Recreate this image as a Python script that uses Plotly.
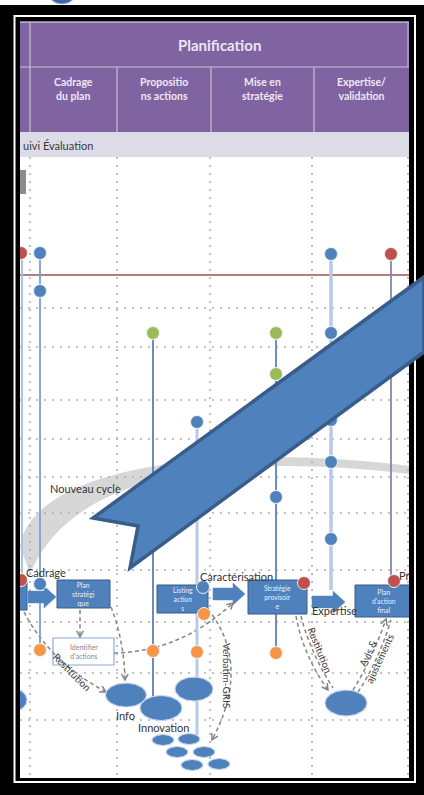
import numpy as np
import plotly.graph_objects as go

W, H = 424, 795

# ---------------- data ----------------
phase_title = "Planification"
column_labels = ["Cadrage<br>du plan", "Propositio<br>ns actions",
                 "Mise en<br>stratégie", "Expertise/<br>validation"]
column_edges = [30, 117, 211, 314, 409]
band_label = "uivi Évaluation"

grid_x = [30, 117, 210, 312, 408]
grid_y = [308, 347, 400, 439, 477, 513, 570, 622, 673, 720]
threshold_y = 275

stem_x = [22, 40, 153, 197, 276, 331, 391]
stem_top = [253, 253, 333, 422, 333, 254, 254]
stem_bottom = [600, 650, 698, 735, 653, 590, 580]

red_x = [21, 391, 21, 304, 394]
red_y = [253, 254, 580, 583, 581]
blue_x = [40, 40, 331, 331, 331, 331, 331, 197, 276, 40, 203]
blue_y = [253, 291, 254, 333, 420, 462, 539, 422, 497, 584, 587]
green_x = [153, 276, 276]
green_y = [333, 333, 374]
orange_x = [40, 153, 197, 276, 204]
orange_y = [650, 651, 652, 653, 614]

box_labels = ["", "Plan<br>stratégi<br>que", "Listing<br>action<br>s",
              "Stratégie<br>provisoir<br>e", "Plan<br>d'action<br>final"]
box_x0 = [10, 57, 157, 248, 355]
box_x1 = [27, 110, 208, 307, 412]
box_y0 = [582, 580, 585, 580, 585]
box_y1 = [610, 608, 613, 614, 617]

note_label = "Identifier<br>d'actions"
note_x = [53, 114]
note_y = [638, 665]

flow_x0 = [28, 213, 312]
flow_x1 = [56, 245, 345]
flow_y = [597, 594, 602]

ell_cx = [8, 126, 161, 194, 346, 163, 189, 177, 204, 192, 219]
ell_cy = [700, 695, 708, 689, 703, 740, 739, 752, 752, 765, 764]
ell_rx = [19, 20.5, 21, 19, 21, 11, 11, 11, 11, 11, 11]
ell_ry = [13, 12, 12.5, 12, 13, 5.5, 5.5, 5.5, 5.5, 5.5, 5.5]

ell_labels = ["Info", "Innovation", "Nouveau cycle"]
ell_label_x = [125, 163, 85]
ell_label_y = [715, 727, 488]

step_labels = ["Cadrage", "Caractérisation", "Expertise", "Pr"]
step_x = [24, 198, 310, 397]
step_y = [572, 576, 610, 575]

rot_labels = ["Restitution", "Verbatim-GRIS", "Restitution", "Avis &<br>ajustements"]
rot_x = [72, 227, 320, 373]
rot_y = [672, 675, 650, 656]
rot_angle = [45, 90, 68, -65]

conn_start = [(24, 612), (80, 610), (111, 607), (114, 653), (208, 609),
              (296, 616), (301, 616), (353, 690), (358, 692)]
conn_ctrl = [(50, 662), (80, 624), (124, 640), (180, 652), (252, 665),
             (303, 655), (310, 652), (372, 660), (378, 662)]
conn_end = [(106, 692), (80, 637), (125, 680), (233, 603), (212, 740),
            (328, 690), (333, 688), (386, 619), (391, 620)]
conn_head = [True, True, True, True, True, True, False, True, False]

arc_upper = [(20, 546), (32, 472), (200, 440), (410, 466)]
arc_lower = [(410, 474), (225, 452), (72, 472), (30, 574)]

callout_x = [93, 138, 130, 424, 424]
callout_y = [518, 526, 568, 352, 277]

# ---------------- styles ----------------
PURPLE = "#8064a2"
BLUE = "#4f81bd"
BLUE_DARK = "#385d8a"
FONT = "Lato"
stem_colors = ["#a9c1e3", "#7a9fd4", "#4a6fa5", "#b8cae6", "#6d8fc8", "#b9c9e3", "#7f8aa3"]
stem_widths = [2, 1.8, 1.6, 3, 2, 3.5, 1.8]

shapes = []
annotations = []


def rect(x0, y0, x1, y1, fill, line_color=None, lw=0, layer="below"):
    shapes.append(dict(type="rect", xref="x", yref="y", x0=x0, y0=y0, x1=x1, y1=y1,
                       fillcolor=fill, line=dict(color=line_color or fill, width=lw),
                       layer=layer))


def seg(x0, y0, x1, y1, color, width=1, dash=None, layer="below"):
    ln = dict(color=color, width=width)
    if dash:
        ln["dash"] = dash
    shapes.append(dict(type="line", xref="x", yref="y", x0=x0, y0=y0, x1=x1, y1=y1,
                       line=ln, layer=layer))


def txt(x, y, text, size, color="#333333", angle=0, xanchor="center", bold=False):
    if bold:
        text = "<b>" + text + "</b>"
    annotations.append(dict(x=x, y=y, xref="x", yref="y", text=text, showarrow=False,
                            xanchor=xanchor, yanchor="middle", textangle=angle,
                            font=dict(family=FONT, size=size, color=color)))


# content background
rect(20, 21, 409, 778, "white")
# header
rect(20, 22, 409, 132, PURPLE)
seg(20, 22.5, 409, 22.5, "#b7a6cc", 1)
seg(20, 67, 409, 67, "#c9bcd9", 1.2)
seg(30, 22, 30, 132, "#c9bcd9", 1.2)
seg(408, 22, 408, 67, "#c9bcd9", 1)
for e in column_edges[1:-1]:
    seg(e, 67, e, 132, "#c9bcd9", 1.2)
txt((30 + 409) / 2, 45, phase_title, 15, "#ebe4f3", bold=True)
for i, lab in enumerate(column_labels):
    txt((column_edges[i] + column_edges[i + 1]) / 2, 89, lab, 10.5, "#eee8f4", bold=True)
# sub band
rect(20, 132, 409, 157, "#dcdce8")
txt(20.5, 145, band_label, 11, "#3a3a3a", xanchor="left")
rect(20, 170, 26, 194, "#8c8c8c")

# dotted grid
for gx in grid_x:
    seg(gx, 157, gx, 778, "#b0b0b0", 1.6, dash="2px,6px")
for gy in grid_y:
    seg(20, gy, 409, gy, "#b0b0b0", 1.6, dash="2px,6px")
seg(20, threshold_y, 409, threshold_y, "#a0524e", 1.6)

# "Nouveau cycle" swoosh
u, l = arc_upper, arc_lower
arc_path = ("M {},{} C {},{} {},{} {},{} L {},{} C {},{} {},{} {},{} Z".format(
    *u[0], *u[1], *u[2], *u[3], *l[0], *l[1], *l[2], *l[3]))
shapes.append(dict(type="path", xref="x", yref="y", path=arc_path,
                   fillcolor="rgba(175,175,175,0.5)", line=dict(width=0), layer="below"))

# note box
rect(note_x[0], note_y[0], note_x[1], note_y[1], "white", "#8eaad4", 1.2)
txt(sum(note_x) / 2, sum(note_y) / 2, note_label, 7, "#8a8a8a")

# dashed connectors
for s, c, e, hd in zip(conn_start, conn_ctrl, conn_end, conn_head):
    shapes.append(dict(type="path", xref="x", yref="y",
                       path="M {},{} Q {},{} {},{}".format(*s, *c, *e),
                       line=dict(color="#858585", width=1.5, dash="4px,3px"), layer="below"))
    if hd:
        dx, dy = e[0] - c[0], e[1] - c[1]
        n = np.hypot(dx, dy)
        dx, dy = dx / n, dy / n
        L = 7
        pts = []
        for a in (0.5, -0.5):
            ca, sa = np.cos(a), np.sin(a)
            rx = -(dx * ca - dy * sa) * L
            ry = -(dx * sa + dy * ca) * L
            pts.append((e[0] + rx, e[1] + ry))
        shapes.append(dict(type="path", xref="x", yref="y",
                           path="M {:.1f},{:.1f} L {},{} L {:.1f},{:.1f}".format(*pts[0], *e, *pts[1]),
                           line=dict(color="#858585", width=1.5), layer="below"))

fig = go.Figure()

# stems
for i in range(len(stem_x)):
    fig.add_trace(go.Scatter(x=[stem_x[i], stem_x[i]], y=[stem_top[i], stem_bottom[i]],
                             mode="lines", line=dict(color=stem_colors[i], width=stem_widths[i]),
                             hoverinfo="skip"))

# boxes
for i in range(len(box_x0)):
    x0, x1, y0, y1 = box_x0[i], box_x1[i], box_y0[i], box_y1[i]
    fig.add_trace(go.Scatter(x=[x0, x1, x1, x0, x0], y=[y0, y0, y1, y1, y0], mode="lines",
                             fill="toself", fillcolor=BLUE, line=dict(color=BLUE_DARK, width=1),
                             hoverinfo="skip"))
    if box_labels[i]:
        txt((x0 + x1) / 2, (y0 + y1) / 2, box_labels[i], 6.8, "#e8eef8")

# flow block arrows
for x0, x1, yc in zip(flow_x0, flow_x1, flow_y):
    hx = x1 - 12
    xs = [x0, hx, hx, x1, hx, hx, x0, x0]
    ys = [yc - 6, yc - 6, yc - 11, yc, yc + 11, yc + 6, yc + 6, yc - 6]
    fig.add_trace(go.Scatter(x=xs, y=ys, mode="lines", fill="toself", fillcolor=BLUE,
                             line=dict(color="#5b8ac4", width=0.5), hoverinfo="skip"))

# ellipses
t = np.linspace(0, 2 * np.pi, 72)
for cx, cy, rx, ry in zip(ell_cx, ell_cy, ell_rx, ell_ry):
    fig.add_trace(go.Scatter(x=cx + rx * np.cos(t), y=cy + ry * np.sin(t), mode="lines",
                             fill="toself", fillcolor=BLUE,
                             line=dict(color="#c9d6eb", width=1.2), hoverinfo="skip"))

# dots
for xs, ys, col in [(red_x, red_y, "#c0504d"), (blue_x, blue_y, BLUE),
                    (green_x, green_y, "#9bbb59"), (orange_x, orange_y, "#f79646")]:
    fig.add_trace(go.Scatter(x=xs, y=ys, mode="markers",
                             marker=dict(color=col, size=13, line=dict(color="#eef2f8", width=1)),
                             hoverinfo="skip"))

# texts
for lab, x, y in zip(ell_labels, ell_label_x, ell_label_y):
    txt(x, y, lab, 11, "#333333")
for lab, x, y in zip(step_labels, step_x, step_y):
    txt(x, y, lab, 11, "#333333", xanchor="left")
for lab, x, y, a in zip(rot_labels, rot_x, rot_y, rot_angle):
    txt(x, y, lab, 10, "#3a3a3a", angle=a)

# logo peeking at top, then black frame
shapes.append(dict(type="circle", xref="x", yref="y", x0=46, y0=-28, x1=78, y1=4,
                   fillcolor="#3d68a5", line=dict(color="#9fb3cf", width=1), layer="above"))
rect(0, 5, 424, 21.5, "black", layer="above")
rect(0, 778, 424, 795, "black", layer="above")
rect(0, 5, 20, 795, "black", layer="above")
rect(409, 5, 424, 795, "black", layer="above")
shapes.append(dict(type="rect", xref="x", yref="y", x0=14.5, y0=16, x1=415, y1=782,
                   line=dict(color="white", width=2), layer="above"))

# big callout arrow
cp = "M " + " L ".join("{},{}".format(x, y) for x, y in zip(callout_x, callout_y)) + " Z"
shapes.append(dict(type="path", xref="x", yref="y", path=cp, fillcolor=BLUE,
                   line=dict(color=BLUE_DARK, width=3.5), layer="above"))

fig.update_layout(
    width=W, height=H, margin=dict(l=0, r=0, t=0, b=0),
    paper_bgcolor="white", plot_bgcolor="white", showlegend=False,
    xaxis=dict(range=[0, W], visible=False, fixedrange=True),
    yaxis=dict(range=[H, 0], visible=False, fixedrange=True),
    shapes=shapes, annotations=annotations,
)

fig.write_html(
    "out.html",
    config={"displayModeBar": False, "staticPlot": True},
    post_script="document.body.style.margin='0';document.body.style.overflow='hidden';",
)
